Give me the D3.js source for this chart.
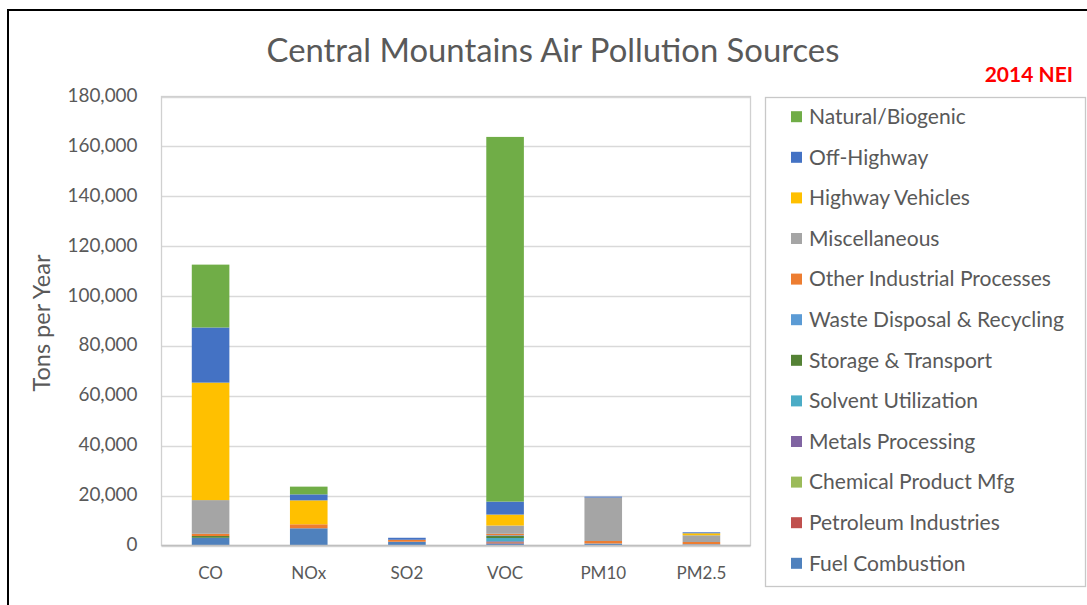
<!DOCTYPE html>
<html>
<head>
<meta charset="utf-8">
<script src="https://cdn.jsdelivr.net/npm/d3@7"></script>
<style>
  html, body { margin: 0; padding: 0; background: #fff; }
  svg { display: block; }
  text { font-family: Lato, "Open Sans", sans-serif; }
</style>
</head>
<body>
<svg id="chart" width="1087" height="605"></svg>
<script>
// ---- data ----
const categories = ["CO", "NOx", "SO2", "VOC", "PM10", "PM2.5"];
// series listed bottom -> top of each stack
const fuelCombustion      = [3100, 6900, 1500, 800, 600, 400];
const petroleumIndustries = [0, 0, 0, 500, 0, 0];
const chemicalProductMfg  = [0, 0, 0, 100, 0, 0];
const metalsProcessing    = [0, 0, 0, 300, 0, 0];
const solventUtilization  = [0, 0, 0, 1300, 0, 0];
const storageTransport    = [700, 0, 0, 800, 0, 0];
const wasteDisposal       = [0, 0, 0, 300, 200, 100];
const otherIndustrial     = [900, 1600, 800, 600, 1000, 900];
const miscellaneous       = [13500, 0, 0, 3300, 17400, 2700];
const highwayVehicles     = [47100, 9600, 0, 4400, 0, 800];
const offHighway          = [22100, 2400, 800, 5200, 400, 400];
const naturalBiogenic     = [25200, 3100, 0, 146200, 0, 0];

const seriesNames = ["Fuel Combustion", "Petroleum Industries", "Chemical Product Mfg",
  "Metals Processing", "Solvent Utilization", "Storage & Transport",
  "Waste Disposal & Recycling", "Other Industrial Processes", "Miscellaneous",
  "Highway Vehicles", "Off-Highway", "Natural/Biogenic"];
const seriesValues = [fuelCombustion, petroleumIndustries, chemicalProductMfg,
  metalsProcessing, solventUtilization, storageTransport, wasteDisposal,
  otherIndustrial, miscellaneous, highwayVehicles, offHighway, naturalBiogenic];
const seriesColors = ["#4f81bd", "#c0504d", "#9bbb59", "#8064a2", "#4bacc6", "#548235",
  "#5b9bd5", "#ed7d31", "#a5a5a5", "#ffc000", "#4472c4", "#70ad47"];
const yTicks = [0, 20000, 40000, 60000, 80000, 100000, 120000, 140000, 160000, 180000];

const title = "Central Mountains Air Pollution Sources";
const tag = "2014 NEI";
const yTitle = "Tons per Year";

// ---- build table ----
const table = categories.map((c, i) => {
  const row = { cat: c };
  seriesNames.forEach((s, j) => row[s] = seriesValues[j][i]);
  return row;
});
const stacked = d3.stack().keys(seriesNames)(table);

const svg = d3.select("#chart");
const plot = { left: 161.5, top: 96.5, right: 750.5, bottom: 545.5 };

function fitWidth(sel, sampleText, target) {
  let w = 0;
  sel.each(function() { if (this.textContent === sampleText) w = this.getComputedTextLength(); });
  if (w > 0) {
    const fs = parseFloat(sel.attr("font-size"));
    sel.attr("font-size", fs * target / w);
  }
}

// outer frame
svg.append("rect").attr("x", 8).attr("y", 10).attr("width", 1200).attr("height", 800)
  .attr("fill", "none").attr("stroke", "#000").attr("stroke-width", 2);

const x = d3.scaleBand().domain(categories).range([plot.left, plot.right])
  .paddingInner(0.617).paddingOuter(0.3085);
const y = d3.scaleLinear().domain([0, 180000]).range([plot.bottom, plot.top]);

// gridlines
svg.append("g").selectAll("line").data(yTicks).join("line")
  .attr("x1", plot.left).attr("x2", plot.right)
  .attr("y1", d => Math.round(y(d)) + 0.5).attr("y2", d => Math.round(y(d)) + 0.5)
  .attr("stroke", "#d9d9d9").attr("stroke-width", 1.3);

// plot border
svg.append("rect").attr("x", plot.left).attr("y", plot.top)
  .attr("width", plot.right - plot.left).attr("height", plot.bottom - plot.top)
  .attr("fill", "none").attr("stroke", "#d0d0d0").attr("stroke-width", 1.3);

// bars
svg.append("g").selectAll("g").data(stacked).join("g")
  .attr("fill", (d, i) => seriesColors[i])
  .selectAll("rect").data(d => d).join("rect")
  .attr("x", d => x(d.data.cat))
  .attr("width", x.bandwidth())
  .attr("y", d => y(d[1]))
  .attr("height", d => Math.max(0, y(d[0]) - y(d[1])));

// zero axis line
svg.append("line").attr("x1", plot.left).attr("x2", plot.right)
  .attr("y1", plot.bottom).attr("y2", plot.bottom)
  .attr("stroke", "#bfbfbf").attr("stroke-width", 1.3);

// y axis labels
const yAxis = d3.axisLeft(y).tickValues(yTicks).tickFormat(d3.format(",")).tickSize(0).tickPadding(24);
const ya = svg.append("g").attr("transform", `translate(${plot.left},-1)`).call(yAxis);
ya.select(".domain").remove();
const yt = ya.selectAll("text").attr("font-size", 16).attr("fill", "#595959")
  .style("font-family", "Lato, sans-serif");
fitWidth(yt, "180,000", 70);

// x axis labels
const xAxis = d3.axisBottom(x).tickSize(0).tickPadding(21);
const xa = svg.append("g").attr("transform", `translate(0,${plot.bottom})`).call(xAxis);
xa.select(".domain").remove();
xa.selectAll("text").attr("font-size", 17).attr("fill", "#595959")
  .style("font-family", "Lato, sans-serif");

// title
const t = svg.append("text").attr("x", 553).attr("y", 62).attr("text-anchor", "middle")
  .attr("fill", "#595959").attr("font-size", 28).text(title);
fitWidth(t, title, 573);

svg.append("text").attr("x", 1073).attr("y", 82).attr("text-anchor", "end")
  .attr("fill", "#ff0000").attr("font-weight", "bold").attr("font-size", 21)
  .text(tag);

// y title
const ytt = svg.append("text").attr("transform", "translate(50,323) rotate(-90)")
  .attr("text-anchor", "middle").attr("fill", "#595959").attr("font-size", 18)
  .text(yTitle);
fitWidth(ytt, yTitle, 137);

// legend
svg.append("rect").attr("x", 765.5).attr("y", 97.5).attr("width", 320).attr("height", 489)
  .attr("fill", "none").attr("stroke", "#c8c8c8").attr("stroke-width", 1.3);
const legendOrder = seriesNames.map((n, i) => ({ name: n, color: seriesColors[i] })).reverse();
const lg = svg.append("g").selectAll("g").data(legendOrder).join("g")
  .attr("transform", (d, i) => `translate(791,${116.7 + i * 40.6})`);
lg.append("rect").attr("x", 0).attr("y", -5.5).attr("width", 11).attr("height", 11)
  .attr("fill", d => d.color);
const lt = lg.append("text").attr("x", 18).attr("y", 0).attr("dy", "0.35em")
  .attr("fill", "#595959").attr("font-size", 17).text(d => d.name);
fitWidth(lt, "Other Industrial Processes", 242);
</script>
</body>
</html>
